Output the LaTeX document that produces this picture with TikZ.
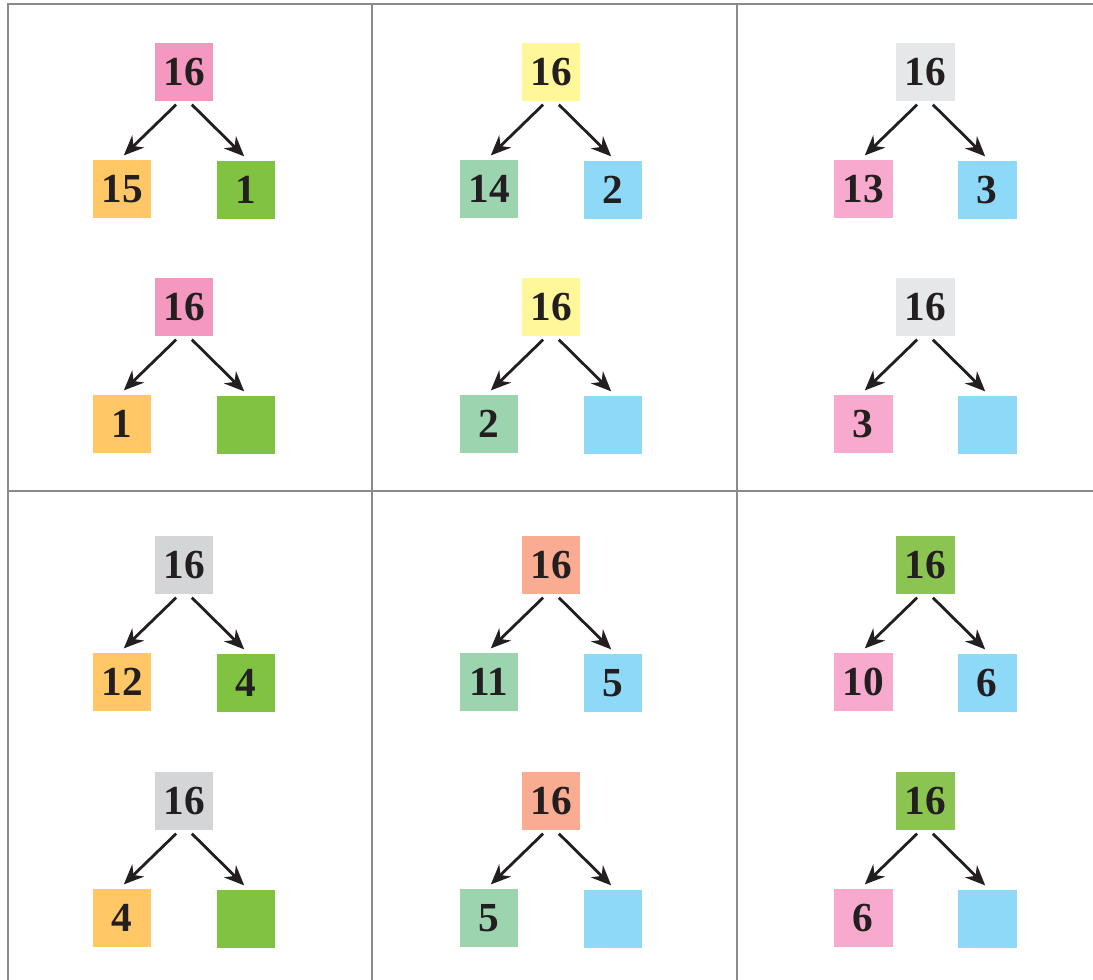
\documentclass[tikz,border=0pt]{standalone}
\usepackage{fontspec}
\setmainfont{Liberation Serif}
\usetikzlibrary{arrows.meta,positioning}
\definecolor{BondPink}{HTML}{F598C0}
\definecolor{BondOrange}{HTML}{FFC766}
\definecolor{BondGreen}{HTML}{80C242}
\definecolor{BondYellow}{HTML}{FFF799}
\definecolor{BondMint}{HTML}{9DD4B0}
\definecolor{BondBlue}{HTML}{8ED8F8}
\definecolor{BondPale}{HTML}{E6E7E8}
\definecolor{BondRose}{HTML}{F7AACD}
\definecolor{BondGrey}{HTML}{D4D5D6}
\definecolor{BondSalmon}{HTML}{F9AC91}
\definecolor{BondLime}{HTML}{8CC452}
\definecolor{BondInk}{HTML}{231F20}
\definecolor{BondRule}{HTML}{8A8A8C}
\begin{document}
\begin{tikzpicture}[
  x=0.02cm, y=-0.02cm,
  numbox/.style={minimum width=1.18cm, minimum height=1.18cm, inner sep=0pt, text=BondInk, font=\fontsize{23.5}{25}\selectfont\bfseries},
  bond/.style={-{Stealth[length=0.4cm,width=0.34cm]}, line width=1.6pt, draw=BondInk, shorten <=0.08cm, shorten >=0.05cm},
  rule/.style={line width=1.4pt, draw=BondRule}
]
\useasboundingbox (0,0) rectangle (1093,980);
% table rules
\draw[rule] (8,980) -- (8,4) -- (1093,4);
\draw[rule] (372,4) -- (372,980);
\draw[rule] (737,4) -- (737,980);
\draw[rule] (8,491) -- (1093,491);
% number bonds: x, y, whole colour, left colour, right colour, whole, left, right
\foreach \bx/\by/\ct/\cl/\cr/\nt/\nl/\nr [count=\i] in {
  0/0/BondPink/BondOrange/BondGreen/16/15/1,
  0/235/BondPink/BondOrange/BondGreen/16/1/,
  367/0/BondYellow/BondMint/BondBlue/16/14/2,
  367/235/BondYellow/BondMint/BondBlue/16/2/,
  741/0/BondPale/BondRose/BondBlue/16/13/3,
  741/235/BondPale/BondRose/BondBlue/16/3/,
  0/493/BondGrey/BondOrange/BondGreen/16/12/4,
  0/729/BondGrey/BondOrange/BondGreen/16/4/,
  367/493/BondSalmon/BondMint/BondBlue/16/11/5,
  367/729/BondSalmon/BondMint/BondBlue/16/5/,
  741/493/BondLime/BondRose/BondBlue/16/10/6,
  741/729/BondLime/BondRose/BondBlue/16/6/}
{
  \node[numbox, fill=\ct] (whole\i) at (184+\bx,72+\by) {\nt};
  \node[numbox, fill=\cl] (left\i) at (122+\bx,189+\by) {\nl};
  \node[numbox, fill=\cr] (right\i) at (246+\bx,190+\by) {\nr};
  \draw[bond] ([xshift=-0.1cm]whole\i.south) -- ([yshift=0.04cm]left\i.north);
  \draw[bond] ([xshift=0.1cm]whole\i.south) -- ([yshift=0.04cm]right\i.north);
}
\end{tikzpicture}
\end{document}
